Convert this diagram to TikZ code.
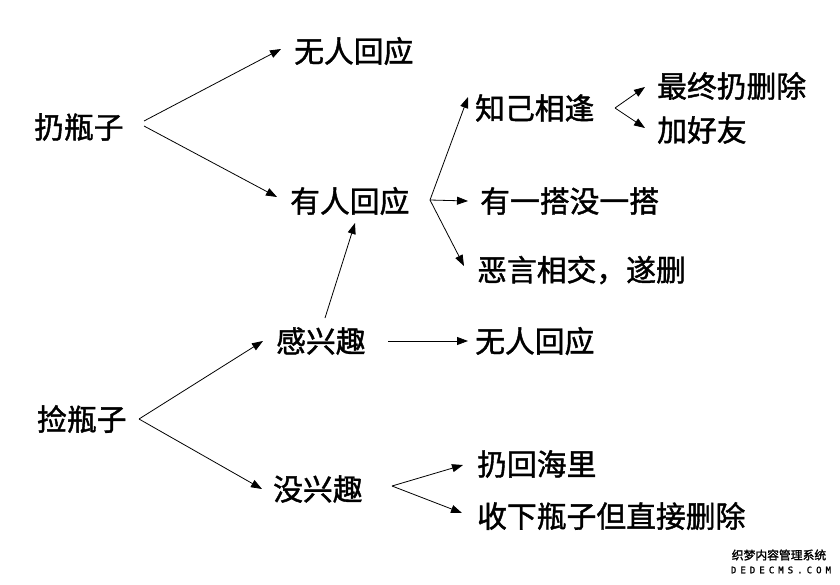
\documentclass[tikz,border=0pt]{standalone}
\usepackage{fontspec}
\newfontfamily\cjkb{Noto Sans CJK SC}[FakeBold=1.4]
\newfontfamily\wmlat{DejaVu Sans Mono}[FakeBold=1.5,LetterSpace=45]
\usetikzlibrary{arrows.meta}
\tikzset{
  lbl/.style={anchor=west, inner sep=0pt, font=\cjkb\fontsize{29.8}{30}\selectfont},
  wm/.style={inner sep=0pt, font=\cjkb\fontsize{11.8}{12}\selectfont},
  wml/.style={inner sep=0pt, font=\wmlat\fontsize{9}{9}\selectfont},
  arr/.style={-{Triangle[length=11pt,width=8pt]}, line width=0.8pt},
}
\begin{document}
\begin{tikzpicture}[x=1pt,y=-1pt]
\useasboundingbox (0,0) rectangle (840,584);
\fill[white] (0,0) rectangle (840,584);
% nodes
\node[lbl] (reng) at (34,127) {扔瓶子};
\node[lbl] (wu1) at (294,51) {无人回应};
\node[lbl] (you) at (290,201) {有人回应};
\node[lbl] (zhiji) at (475,108) {知己相逢};
\node[lbl] (zui) at (657,86) {最终扔删除};
\node[lbl] (jia) at (657,130) {加好友};
\node[lbl] (youyi) at (480,201) {有一搭没一搭};
\node[lbl] (eyan) at (477,270) {恶言相交，遂删};
\node[lbl] (gan) at (276,341) {感兴趣};
\node[lbl] (wu2) at (475,341) {无人回应};
\node[lbl] (jian) at (37,419) {捡瓶子};
\node[lbl] (renghui) at (477,464) {扔回海里};
\node[lbl] (shou) at (477,516) {收下瓶子但直接删除};
\node[lbl] (mei) at (273,489) {没兴趣};
\node[wm] (wm1) at (779,555) {织梦内容管理系统};
\node[wml] (wm2) at (781,570) {DEDECMS.COM};
% fork points
\coordinate (f1a) at (144,121);
\coordinate (f1b) at (144,126);
\coordinate (f2) at (430,200);
\coordinate (f3) at (615,108);
\coordinate (f4) at (139,419);
\coordinate (f5) at (392,486);
% connectors
\draw[arr] (f1a) -- ([shift={(-13,-2)}]wu1.west);
\draw[arr] (f1b) -- ([shift={(-13,-4)}]you.west);
\draw[arr] (f2) -- ([shift={(-7,-11)}]zhiji.west);
\draw[arr] (f2) -- ([shift={(-12,0)}]youyi.west);
\draw[arr] (f2) -- ([shift={(-13,-4)}]eyan.west);
\draw[arr] (f3) -- ([shift={(-12,1)}]zui.west);
\draw[arr] (f3) -- ([shift={(-12,-2)}]jia.west);
\draw[arr] ([shift={(49,-23)}]gan.west) -- ([shift={(65,22)}]you.west);
\draw[arr] ([shift={(112,0)}]gan.west) -- ([shift={(-7,0)}]wu2.west);
\draw[arr] (f4) -- ([shift={(-13,0)}]gan.west);
\draw[arr] (f4) -- ([shift={(-11,0)}]mei.west);
\draw[arr] (f5) -- ([shift={(-14,1)}]renghui.west);
\draw[arr] (f5) -- ([shift={(-15,-3)}]shou.west);
\end{tikzpicture}
\end{document}
